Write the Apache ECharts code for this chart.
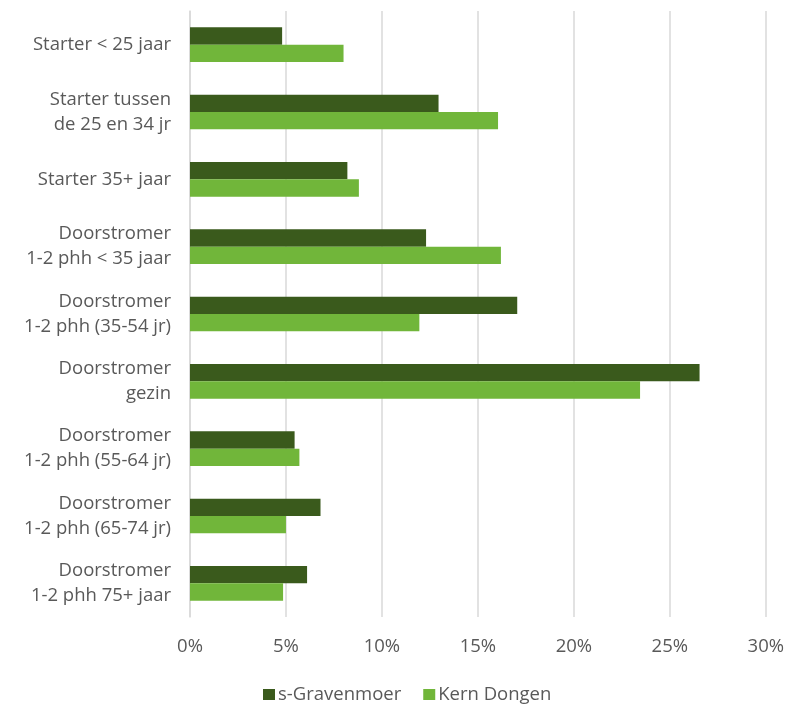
<!DOCTYPE html>
<html>
<head>
<meta charset="utf-8">
<script src="https://cdn.jsdelivr.net/npm/echarts@6/dist/echarts.min.js"></script>
<style>
  html, body { margin: 0; padding: 0; background: #ffffff; }
  #chart { width: 787px; height: 704px; }
</style>
</head>
<body>
<div id="chart"></div>
<script>
// Household groups (top to bottom)
const categories = [
  'Starter < 25 jaar',
  'Starter tussen\nde 25 en 34 jr',
  'Starter 35+ jaar',
  'Doorstromer\n1-2 phh < 35 jaar',
  'Doorstromer\n1-2 phh (35-54 jr)',
  'Doorstromer\ngezin',
  'Doorstromer\n1-2 phh (55-64 jr)',
  'Doorstromer\n1-2 phh (65-74 jr)',
  'Doorstromer\n1-2 phh 75+ jaar'
];

// Share per group, in percent
const gravenmoer = [4.8, 12.95, 8.2, 12.3, 17.05, 26.55, 5.45, 6.8, 6.1];
const kernDongen = [8.0, 16.05, 8.8, 16.2, 11.95, 23.45, 5.7, 5.0, 4.85];

const seriesNames = ['s-Gravenmoer', 'Kern Dongen'];
const seriesColors = ['#3a5a1c', '#71b63a'];

const fontFamily = '"Open Sans", "Noto Sans", sans-serif';
const textColor = '#595959';
const fontSize = 18.5;

const chart = echarts.init(document.getElementById('chart'), null, { renderer: 'canvas' });

chart.setOption({
  animation: false,
  backgroundColor: '#ffffff',
  grid: { left: 190, right: 21, top: 11, bottom: 87, containLabel: false },
  legend: {
    data: seriesNames,
    top: 680,
    left: 258,
    itemWidth: 12,
    itemHeight: 11,
    itemGap: 22,
    icon: 'rect',
    textStyle: { color: textColor, fontSize: fontSize, fontFamily: fontFamily, padding: [0, 0, 0, -2] }
  },
  xAxis: {
    type: 'value',
    min: 0,
    max: 30,
    interval: 5,
    axisLine: { show: false },
    axisTick: { show: false },
    splitLine: { show: true, lineStyle: { color: '#d9d9d9', width: 1.5 } },
    axisLabel: {
      color: textColor,
      fontSize: fontSize,
      fontFamily: fontFamily,
      margin: 20,
      formatter: v => v + '%'
    }
  },
  yAxis: {
    type: 'category',
    inverse: true,
    data: categories,
    axisLine: { show: true, lineStyle: { color: '#d9d9d9', width: 1.5 } },
    axisTick: { show: false },
    axisLabel: {
      color: textColor,
      fontSize: fontSize,
      fontFamily: fontFamily,
      margin: 19,
      lineHeight: 25,
      align: 'right'
    }
  },
  series: seriesNames.map((name, i) => ({
    name: name,
    type: 'bar',
    data: i === 0 ? gravenmoer : kernDongen,
    barGap: '0%',
    barCategoryGap: '48.5%',
    itemStyle: { color: seriesColors[i] }
  }))
});
</script>
</body>
</html>
